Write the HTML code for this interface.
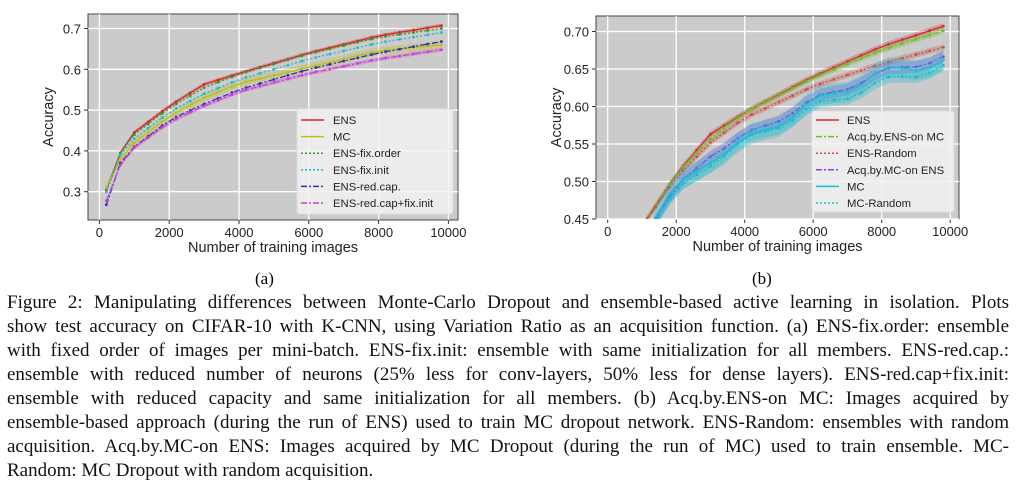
<!DOCTYPE html>
<html><head><meta charset="utf-8"><style>
body{margin:0;background:#fff;width:1024px;height:488px;overflow:hidden;position:relative;font-family:"Liberation Serif",serif}
svg{position:absolute;left:0;top:0}
.cap{position:absolute;left:7px;width:1002px;font-size:19px;line-height:24px;color:#111}
.cap div{text-align:justify;text-align-last:justify;white-space:nowrap;height:24px}
.cap div.l{text-align-last:left}
.sub{position:absolute;font-size:17px;top:269px}
</style></head><body>
<svg id="s" width="1024" height="268" font-family="Liberation Sans, DejaVu Sans, sans-serif"></svg>
<div class="sub" style="left:255px">(a)</div>
<div class="sub" style="left:752px">(b)</div>
<div class="cap" style="top:291px">
<div>Figure 2: Manipulating differences between Monte-Carlo Dropout and ensemble-based active learning in isolation. Plots</div>
<div>show test accuracy on CIFAR-10 with K-CNN, using Variation Ratio as an acquisition function. (a) ENS-fix.order: ensemble</div>
<div>with fixed order of images per mini-batch. ENS-fix.init: ensemble with same initialization for all members. ENS-red.cap.:</div>
<div>ensemble with reduced number of neurons (25% less for conv-layers, 50% less for dense layers). ENS-red.cap+fix.init:</div>
<div>ensemble with reduced capacity and same initialization for all members. (b) Acq.by.ENS-on MC: Images acquired by</div>
<div>ensemble-based approach (during the run of ENS) used to train MC dropout network. ENS-Random: ensembles with random</div>
<div>acquisition. Acq.by.MC-on ENS: Images acquired by MC Dropout (during the run of MC) used to train ensemble. MC-</div>
<div class="l">Random: MC Dropout with random acquisition.</div>
</div>
<script>
const S=document.getElementById('s');let h='';
function interp(keys,x){for(let i=0;i<keys.length-1;i++){const [x0,y0]=keys[i],[x1,y1]=keys[i+1];if(x>=x0&&x<=x1)return y0+(y1-y0)*(x-x0)/(x1-x0);}return keys[keys.length-1][1];}
function plot(P){
 const X=v=>P.x0+(v)*P.xs, Y=v=>P.y0-(v-P.yb)*P.ys;
 h+=`<defs><clipPath id="c${P.id}"><rect x="${P.L}" y="${P.T}" width="${P.R-P.L}" height="${P.B-P.T}"/></clipPath></defs>`;
 h+=`<rect x="${P.L}" y="${P.T}" width="${P.R-P.L}" height="${P.B-P.T}" fill="#cbcbcb" stroke="#444" stroke-width="1"/>`;
 for(const t of P.xt){const x=X(t);h+=`<line x1="${x}" x2="${x}" y1="${P.T}" y2="${P.B}" stroke="#fff" stroke-width="1.3"/><line x1="${x}" x2="${x}" y1="${P.B}" y2="${P.B+4}" stroke="#333"/><text x="${x}" y="${P.B+17}" font-size="13" text-anchor="middle" fill="#222">${t}</text>`;}
 for(const t of P.yt){const y=Y(t);h+=`<line y1="${y}" y2="${y}" x1="${P.L}" x2="${P.R}" stroke="#fff" stroke-width="1.3"/><line y1="${y}" y2="${y}" x1="${P.L-4}" x2="${P.L}" stroke="#333"/><text x="${P.L-7}" y="${y+5}" font-size="13" text-anchor="end" fill="#222">${t.toFixed(P.dec)}</text>`;}
 h+=`<text x="${(P.L+P.R)/2}" y="${P.B+32}" font-size="14.5" text-anchor="middle" fill="#222">Number of training images</text>`;
 h+=`<text transform="translate(${P.L-35},${(P.T+P.B)/2}) rotate(-90)" font-size="14.5" text-anchor="middle" fill="#222">Accuracy</text>`;
 h+=`<g clip-path="url(#c${P.id})">`;
 for(const s of P.series){
  const pts=[];for(let x=200;x<=9800;x+=400){let v=interp(s.k,x)+(s.n||0)*Math.sin(x*0.0031+s.k[0][1]*50);pts.push([X(x),Y(v)]);}
  if(s.band){const up=pts.map(p=>[p[0],p[1]-s.band]),dn=pts.map(p=>[p[0],p[1]+s.band]).reverse();h+=`<polygon points="${up.concat(dn).map(p=>p.join(',')).join(' ')}" fill="${s.c}" opacity="0.3"/>`;}
  h+=`<polyline points="${pts.map(p=>p.map(v=>v.toFixed(1)).join(',')).join(' ')}" fill="none" stroke="${s.c}" stroke-width="1.3" ${s.d?`stroke-dasharray="${s.d}"`:''}/>`;
  for(const p of pts)h+=`<circle cx="${p[0]}" cy="${p[1]}" r="1.4" fill="${s.c}"/>`;
 }
 h+='</g>';
 const lg=P.lg;h+=`<rect x="${lg.x}" y="${lg.y}" width="${lg.w}" height="${lg.h}" rx="3" fill="#f2f2f2" fill-opacity="0.85" stroke="#ddd"/>`;
 P.series.forEach((s,i)=>{const y=lg.r0+i*16.6;h+=`<line x1="${lg.sx}" x2="${lg.sx+23}" y1="${y}" y2="${y}" stroke="${s.c}" stroke-width="1.5" ${s.d?`stroke-dasharray="${s.d}"`:''}/><text x="${lg.tx}" y="${y+4}" font-size="11.3" fill="#222">${s.name}</text>`;});
}
plot({id:1,L:88,R:458,T:14,B:220,x0:99.4,xs:0.0349,y0:191.7,yb:0.3,ys:408,dec:1,
 xt:[0,2000,4000,6000,8000,10000],yt:[0.3,0.4,0.5,0.6,0.7],
 lg:{x:297,y:109,w:156,h:105,r0:120,sx:301,tx:333},
 series:[
 {name:'ENS',c:'#d62728',band:2,k:[[200,0.305],[600,0.395],[1000,0.445],[2000,0.51],[3000,0.563],[4000,0.59],[6000,0.64],[8000,0.682],[9800,0.707]]},
 {name:'MC',c:'#bcbd22',band:4,k:[[200,0.31],[600,0.38],[1000,0.42],[2000,0.485],[3000,0.53],[4000,0.565],[6000,0.605],[8000,0.645],[9800,0.66]]},
 {name:'ENS-fix.order',c:'#2ca02c',d:'2,2',k:[[200,0.3],[600,0.395],[1000,0.44],[2000,0.505],[3000,0.555],[4000,0.588],[6000,0.638],[8000,0.678],[9800,0.7]]},
 {name:'ENS-fix.init',c:'#17becf',d:'2,2',k:[[200,0.3],[600,0.39],[1000,0.43],[2000,0.495],[3000,0.54],[4000,0.575],[6000,0.625],[8000,0.665],[9800,0.69]]},
 {name:'ENS-red.cap.',c:'#3030c0',d:'6,2,2,2',k:[[200,0.268],[600,0.37],[1000,0.41],[2000,0.475],[3000,0.515],[4000,0.55],[6000,0.6],[8000,0.64],[9800,0.668]]},
 {name:'ENS-red.cap+fix.init',c:'#d040d0',d:'6,2,2,2',band:2,k:[[200,0.278],[600,0.365],[1000,0.408],[2000,0.47],[3000,0.51],[4000,0.545],[6000,0.59],[8000,0.625],[9800,0.648]]}
 ]});
plot({id:2,L:596,R:959,T:16,B:219,x0:607.7,xs:0.03425,y0:219,yb:0.45,ys:750,dec:2,
 xt:[0,2000,4000,6000,8000,10000],yt:[0.45,0.5,0.55,0.6,0.65,0.7],
 lg:{x:812,y:111,w:142,h:101,r0:120,sx:816,tx:847},
 series:[
 {name:'ENS',c:'#d62728',band:3,k:[[200,0.3],[1000,0.44],[2000,0.51],[3000,0.563],[4000,0.592],[6000,0.64],[8000,0.68],[9800,0.707]]},
 {name:'Acq.by.ENS-on MC',c:'#6cbf2c',d:'6,2,2,2',band:3,k:[[200,0.3],[1000,0.44],[2000,0.51],[3000,0.557],[4000,0.592],[6000,0.638],[8000,0.675],[9800,0.701]]},
 {name:'ENS-Random',c:'#c8504a',d:'2,2',band:3,k:[[200,0.3],[1000,0.44],[2000,0.505],[3000,0.552],[4000,0.585],[6000,0.627],[8000,0.657],[9800,0.679]]},
 {name:'Acq.by.MC-on ENS',c:'#8a3ce0',d:'6,2,2,2',band:6,n:0.004,k:[[200,0.28],[1400,0.45],[2000,0.49],[3000,0.537],[4000,0.56],[6000,0.608],[8000,0.645],[9800,0.665]]},
 {name:'MC',c:'#17becf',band:10,n:0.006,k:[[200,0.28],[1400,0.455],[2000,0.49],[3000,0.53],[4000,0.553],[6000,0.605],[8000,0.645],[9800,0.66]]},
 {name:'MC-Random',c:'#17becf',d:'2,2',band:6,n:0.005,k:[[200,0.28],[1400,0.45],[2000,0.485],[3000,0.525],[4000,0.553],[6000,0.598],[8000,0.632],[9800,0.653]]}
 ]});
S.innerHTML=h;
</script>
</body></html>
